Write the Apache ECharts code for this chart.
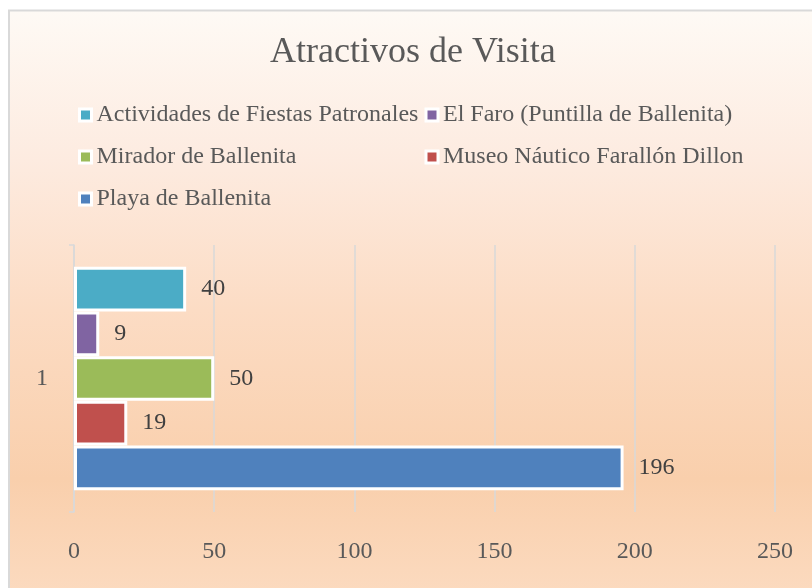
<!DOCTYPE html>
<html>
<head>
<meta charset="utf-8">
<title>Atractivos de Visita</title>
<script src="https://cdn.jsdelivr.net/npm/echarts@6/dist/echarts.min.js"></script>
<style>
  html, body { margin: 0; padding: 0; background: #ffffff; overflow: hidden; }
  #chart { width: 812px; height: 588px; }
</style>
</head>
<body>
<div id="chart"></div>
<script>
// Visitor attractions, single category "1"
const categories = ['1'];
const seriesNames = [
  'Actividades de Fiestas Patronales',
  'El Faro (Puntilla de Ballenita)',
  'Mirador de Ballenita',
  'Museo Náutico Farallón Dillon',
  'Playa de Ballenita'
];
const seriesValues = [40, 9, 50, 19, 196];
const seriesColors = ['#4bacc6', '#8064a2', '#9bbb59', '#c0504d', '#4f81bd'];
const xTicks = { min: 0, max: 250, interval: 50 };

const serif = '"Liberation Serif", "Times New Roman", serif';
const chart = echarts.init(document.getElementById('chart'));

const series = seriesNames.map((name, i) => ({
  name: name,
  type: 'bar',
  data: [seriesValues[i]],
  barGap: '0%',
  barCategoryGap: '16.3%',
  itemStyle: { color: seriesColors[i], borderColor: '#ffffff', borderWidth: 3 },
  label: {
    show: true,
    position: 'right',
    distance: 15,
    fontFamily: serif,
    fontSize: 24,
    color: '#404040'
  },
  emphasis: { disabled: true },
  animation: false
}));

chart.setOption({
  animation: false,
  graphic: [{
    type: 'rect',
    z: -100,
    silent: true,
    shape: { x: 9, y: 10.5, width: 830, height: 600 },
    style: {
      stroke: '#d9d9d9',
      lineWidth: 2,
      fill: new echarts.graphic.LinearGradient(0, 0, 0, 1, [
        { offset: 0, color: '#fefaf5' },
        { offset: 0.25, color: '#fdebe0' },
        { offset: 0.5, color: '#fcdcc4' },
        { offset: 0.78, color: '#f9cfac' },
        { offset: 1, color: '#fcdcc2' }
      ])
    }
  }],
  title: {
    text: 'Atractivos de Visita',
    left: 270,
    top: 35,
    padding: 0,
    textStyle: {
      fontFamily: serif,
      fontSize: 36,
      fontWeight: 'normal',
      color: '#595959',
      lineHeight: 36
    }
  },
  legend: {
    data: seriesNames,
    left: 78,
    top: 97,
    width: 700,
    padding: 0,
    itemGap: 6,
    itemWidth: 12,
    itemHeight: 12,
    icon: 'rect',
    itemStyle: { borderColor: '#ffffff', borderWidth: 3 },
    textStyle: {
      fontFamily: serif,
      fontSize: 24,
      color: '#595959',
      width: 322,
      lineHeight: 36
    },
    selectedMode: false
  },
  grid: { left: 74, right: 37, top: 245, bottom: 76, containLabel: false },
  xAxis: {
    type: 'value',
    min: xTicks.min,
    max: xTicks.max,
    interval: xTicks.interval,
    axisLine: { show: false },
    axisTick: { show: false },
    splitLine: { show: true, lineStyle: { color: '#d9d9d9', width: 1.5 } },
    axisLabel: {
      fontFamily: serif,
      fontSize: 24,
      color: '#595959',
      margin: 28
    }
  },
  yAxis: {
    type: 'category',
    data: categories,
    axisLine: { show: true, lineStyle: { color: '#d9d9d9', width: 1.5 } },
    axisTick: { show: true, length: 5, lineStyle: { color: '#d9d9d9', width: 1.5 } },
    axisLabel: {
      fontFamily: serif,
      fontSize: 24,
      color: '#595959',
      margin: 26
    }
  },
  series: series
});
</script>
</body>
</html>
